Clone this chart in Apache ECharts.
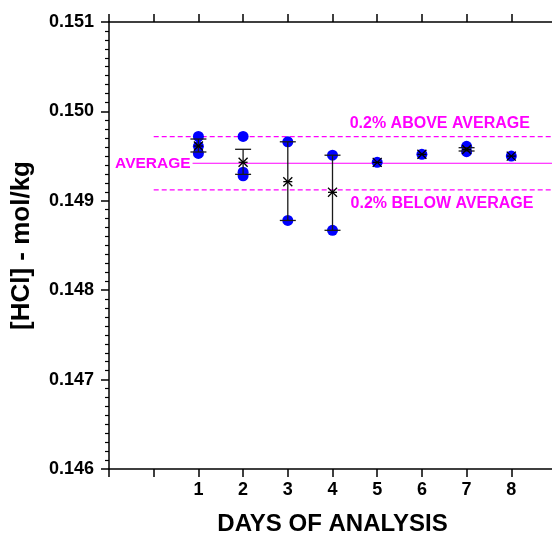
<!DOCTYPE html>
<html>
<head>
<meta charset="utf-8">
<script src="https://cdn.jsdelivr.net/npm/echarts@6.0.0/dist/echarts.min.js"></script>
<style>
  html, body { margin: 0; padding: 0; background: #fff; }
  #chart { width: 552px; height: 537px; }
</style>
</head>
<body>
<div id="chart"></div>
<script>
// raw readings, one list per day of analysis
const days = [1, 2, 3, 4, 5, 6, 7, 8];
const readings = [
  [0.14972, 0.14961, 0.14953],
  [0.14972, 0.14932, 0.14928],
  [0.14966, 0.14878],
  [0.14951, 0.14867],
  [0.14943],
  [0.14952],
  [0.14961, 0.14955],
  [0.14950]
];
// daily mean and error bar ends
const dayMean = [0.149613, 0.149431, 0.149214, 0.149095, 0.14943, 0.14952, 0.149574, 0.14950];
const barHigh = [0.149691, 0.149576, 0.14966, 0.14951, 0.14943, 0.14952, 0.149594, 0.14950];
const barLow  = [0.149546, 0.149296, 0.14878, 0.14867, 0.14943, 0.14952, 0.149557, 0.14950];
const average = 0.14942;
const limitPct = 0.2;
const yTicks = [0.146, 0.147, 0.148, 0.149, 0.150, 0.151];

const upper = average * (1 + limitPct / 100);
const lower = average * (1 - limitPct / 100);
const MAGENTA = "#ff00ff";
const FONT = "'Liberation Sans', Arial, sans-serif";

const dots = [];
readings.forEach((vals, i) => vals.forEach((v) => dots.push([days[i], v])));
const bars = days.map((d, i) => [d, dayMean[i], barLow[i], barHigh[i]]);

const chart = echarts.init(document.getElementById("chart"), null, { renderer: "canvas" });

const axisLine = { onZero: false, lineStyle: { color: "#000", width: 1.5 } };
const tick = { length: 8, lineStyle: { color: "#000", width: 1.5 } };

chart.setOption({
  backgroundColor: "#fff",
  animation: false,
  textStyle: { fontFamily: FONT },
  grid: { left: 109, top: 22, right: -4, bottom: 68, outerBoundsMode: "none" },
  xAxis: [
    {
      type: "value",
      min: -1,
      max: 9,
      interval: 1,
      position: "bottom",
      axisLine: axisLine,
      axisTick: tick,
      splitLine: { show: false },
      axisLabel: {
        margin: 12,
        color: "#000",
        fontSize: 18,
        fontWeight: "bold",
        fontFamily: FONT,
        formatter: (v) => (v >= 1 && v <= 8 ? String(v) : "")
      },
      name: "DAYS OF ANALYSIS",
      nameLocation: "middle",
      nameGap: 43,
      nameTextStyle: { color: "#000", fontSize: 24, fontWeight: "bold", fontFamily: FONT }
    },
    {
      type: "value",
      min: -1,
      max: 9,
      interval: 1,
      position: "top",
      axisLine: axisLine,
      axisTick: tick,
      splitLine: { show: false },
      axisLabel: { show: false }
    }
  ],
  yAxis: {
    type: "value",
    min: yTicks[0],
    max: yTicks[yTicks.length - 1],
    interval: 0.001,
    axisLine: axisLine,
    axisTick: tick,
    minorTick: { show: true, splitNumber: 10, length: 4, lineStyle: { color: "#000", width: 1.2 } },
    splitLine: { show: false },
    axisLabel: {
      margin: 15,
      color: "#000",
      fontSize: 18,
      fontWeight: "bold",
      fontFamily: FONT,
      formatter: (v) => v.toFixed(3)
    },
    name: "[HCl] - mol/kg",
    nameLocation: "middle",
    nameGap: 74,
    nameTextStyle: { color: "#000", fontSize: 26, fontWeight: "bold", fontFamily: FONT }
  },
  series: [
    {
      name: "average",
      type: "line",
      z: 1,
      symbol: "none",
      lineStyle: { color: MAGENTA, width: 1 },
      data: [[0.87, average], [9, average]],
      markPoint: {
        symbol: "circle",
        symbolSize: 0,
        data: [
          {
            coord: [0.87, average],
            label: {
              show: true,
              position: "left",
              distance: 2,
              formatter: "AVERAGE",
              color: MAGENTA,
              fontSize: 15.5,
              fontWeight: "bold",
              fontFamily: FONT
            }
          }
        ]
      }
    },
    {
      name: "upper",
      type: "line",
      z: 1,
      symbol: "none",
      lineStyle: { color: MAGENTA, width: 1.2, type: [5, 3] },
      data: [[0, upper], [9, upper]],
      markPoint: {
        symbol: "circle",
        symbolSize: 0,
        data: [
          {
            coord: [6.4, upper],
            label: {
              show: true,
              position: "top",
              distance: 5,
              formatter: limitPct + "% ABOVE AVERAGE",
              color: MAGENTA,
              fontSize: 16,
              fontWeight: "bold",
              fontFamily: FONT
            }
          }
        ]
      }
    },
    {
      name: "lower",
      type: "line",
      z: 1,
      symbol: "none",
      lineStyle: { color: MAGENTA, width: 1.2, type: [5, 3] },
      data: [[0, lower], [9, lower]],
      markPoint: {
        symbol: "circle",
        symbolSize: 0,
        data: [
          {
            coord: [6.45, lower],
            label: {
              show: true,
              position: "bottom",
              distance: 6,
              formatter: limitPct + "% BELOW AVERAGE",
              color: MAGENTA,
              fontSize: 16,
              fontWeight: "bold",
              fontFamily: FONT
            }
          }
        ]
      }
    },
    {
      name: "readings",
      type: "scatter",
      z: 2,
      symbol: "circle",
      symbolSize: 11,
      itemStyle: { color: "#0000ff", opacity: 1 },
      data: dots
    },
    {
      name: "mean",
      type: "custom",
      z: 3,
      data: bars,
      renderItem: (params, api) => {
        const x = api.value(0);
        const pm = api.coord([x, api.value(1)]);
        const pl = api.coord([x, api.value(2)]);
        const ph = api.coord([x, api.value(3)]);
        const stroke = { stroke: "#1a1a1a", lineWidth: 1.3 };
        const children = [];
        if (Math.abs(pl[1] - ph[1]) > 0.5) {
          const cap = 8;
          children.push(
            { type: "line", shape: { x1: pl[0], y1: pl[1], x2: ph[0], y2: ph[1] }, style: stroke },
            { type: "line", shape: { x1: ph[0] - cap, y1: ph[1], x2: ph[0] + cap, y2: ph[1] }, style: stroke },
            { type: "line", shape: { x1: pl[0] - cap, y1: pl[1], x2: pl[0] + cap, y2: pl[1] }, style: stroke }
          );
        }
        const s = 4.5;
        const star = { stroke: "#000", lineWidth: 1.3 };
        children.push(
          { type: "line", shape: { x1: pm[0] - s, y1: pm[1] - s, x2: pm[0] + s, y2: pm[1] + s }, style: star },
          { type: "line", shape: { x1: pm[0] - s, y1: pm[1] + s, x2: pm[0] + s, y2: pm[1] - s }, style: star },
          { type: "line", shape: { x1: pm[0] - s, y1: pm[1], x2: pm[0] + s, y2: pm[1] }, style: star }
        );
        return { type: "group", children: children };
      }
    }
  ]
});
</script>
</body>
</html>
